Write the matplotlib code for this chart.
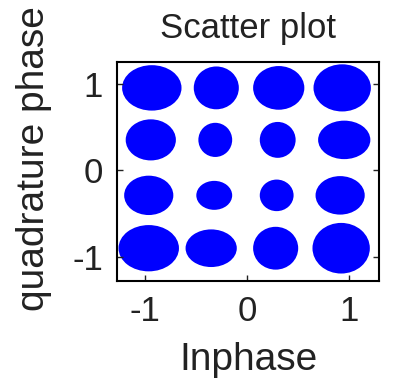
import matplotlib
matplotlib.use("Agg")
import matplotlib.pyplot as plt
from matplotlib.patches import Ellipse

plt.rcParams['font.family'] = ['Liberation Sans', 'DejaVu Sans']
plt.rcParams['axes.unicode_minus'] = False

# 16-QAM received symbol clouds: centre and spread (width, height) of each cloud
inphase = [-0.93, -0.30, 0.31, 0.93,
           -0.94, -0.31, 0.30, 0.95,
           -0.96, -0.32, 0.29, 0.91,
           -0.96, -0.35, 0.28, 0.92]
quadrature = [0.95, 0.95, 0.95, 0.95,
              0.35, 0.35, 0.35, 0.35,
              -0.29, -0.29, -0.29, -0.29,
              -0.90, -0.90, -0.90, -0.90]
spread_i = [0.56, 0.42, 0.48, 0.54,
            0.47, 0.31, 0.33, 0.49,
            0.46, 0.33, 0.31, 0.46,
            0.57, 0.48, 0.42, 0.54]
spread_q = [0.50, 0.47, 0.48, 0.52,
            0.45, 0.37, 0.39, 0.42,
            0.43, 0.31, 0.34, 0.42,
            0.51, 0.41, 0.47, 0.56]

fig = plt.figure(figsize=(3.94, 3.82), dpi=100)
ax = fig.add_axes([0.297, 0.264, 0.665, 0.574])

for x, y, w, h in zip(inphase, quadrature, spread_i, spread_q):
    ax.add_patch(Ellipse((x, y), w, h, facecolor='#0000ff', edgecolor='#0000ff', lw=1.5))

ax.set_xlim(-1.27, 1.29)
ax.set_ylim(-1.28, 1.25)
ax.set_xticks([-1, 0, 1])
ax.set_yticks([-1, 0, 1])
ax.tick_params(direction='in', length=4, width=1, labelsize=25, pad=10,
               top=False, right=True, colors='#222222')
for s in ax.spines.values():
    s.set_linewidth(1.5)

ax.set_title('Scatter plot', fontsize=25, pad=17, color='#222222')
ax.set_xlabel('Inphase', fontsize=28, labelpad=10, color='#222222')
ax.set_ylabel('quadrature phase', fontsize=28, color='#222222')
ax.yaxis.set_label_coords(-0.25, 0.56)

fig.savefig('out.png', dpi=100)
